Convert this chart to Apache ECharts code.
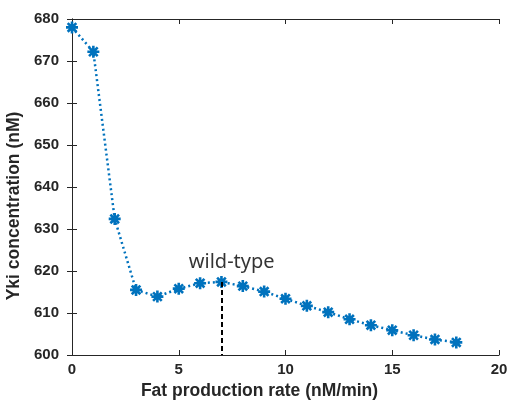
<!DOCTYPE html>
<html><head><meta charset="utf-8">
<script src="https://cdn.jsdelivr.net/npm/echarts@6/dist/echarts.min.js"></script>
<style>html,body{margin:0;padding:0;background:#fff}#c{width:508px;height:401px}</style>
</head><body><div id="c"></div>
<script>
const fatRate = [0,1,2,3,4,5,6,7,8,9,10,11,12,13,14,15,16,17,18];
const ykiConc = [678.0,672.2,632.4,615.5,613.9,615.8,617.1,617.4,616.4,615.1,613.4,611.7,610.2,608.5,607.1,605.9,604.7,603.7,603.0];
const xTicks = [0,5,10,15,20];
const yTicks = [600,610,620,630,640,650,660,670,680];
const wildType = {x: 7, y: 617.4, label: 'wild-type', labelX: 7.48, labelY: 622};

const chart = echarts.init(document.getElementById('c'));
const axisCol = '#262626';
const star = 'path://M0,-1L0,1M-1,0L1,0M-0.72,-0.72L0.72,0.72M-0.72,0.72L0.72,-0.72';
const common = {
  axisLine: {show: true, lineStyle: {color: axisCol, width: 1}},
  axisTick: {show: true, inside: true, length: 5, lineStyle: {color: axisCol}},
  splitLine: {show: false}
};
chart.setOption({
  animation: false,
  grid: {left: 72, right: 9, top: 19, bottom: 46, containLabel: false, outerBoundsMode: 'none'},
  xAxis: [
    Object.assign({type: 'value', min: xTicks[0], max: xTicks[xTicks.length-1], interval: 5,
      name: 'Fat production rate (nM/min)', nameLocation: 'middle', nameGap: 27,
      nameTextStyle: {fontFamily: 'Liberation Sans', fontWeight: 'bold', fontSize: 17.5, color: axisCol, padding: [0, 52, 0, 0]},
      axisLabel: {fontFamily: 'Liberation Sans', fontWeight: 'bold', fontSize: 15, color: axisCol, margin: 7}}, common),
    Object.assign({type: 'value', position: 'top', min: 0, max: 20, interval: 5, axisLabel: {show: false}}, common)
  ],
  yAxis: [
    Object.assign({type: 'value', min: yTicks[0], max: yTicks[yTicks.length-1], interval: 10,
      name: 'Yki concentration (nM)', nameLocation: 'middle', nameGap: 45,
      nameTextStyle: {fontFamily: 'Liberation Sans', fontWeight: 'bold', fontSize: 17.5, color: axisCol, padding: [0, 38, 0, 0]},
      axisLabel: {fontFamily: 'Liberation Sans', fontWeight: 'bold', fontSize: 15, color: axisCol, margin: 13}}, common),
    Object.assign({type: 'value', position: 'right', min: 600, max: 680, interval: 10, axisLabel: {show: false}}, common)
  ],
  series: [
    {
      type: 'line',
      data: fatRate.map((x, i) => [x, ykiConc[i]]),
      symbol: star,
      symbolSize: 12,
      lineStyle: {color: '#0072BD', width: 2.5, type: [2, 3]},
      itemStyle: {color: '#0072BD', borderColor: '#0072BD', borderWidth: 2.6},
      z: 3,
      markLine: {
        silent: true, symbol: 'none',
        label: {show: false},
        lineStyle: {color: '#000', type: [5, 3], width: 2},
        data: [[{coord: [wildType.x, wildType.y]}, {coord: [wildType.x, 600]}]]
      }
    },
    {
      type: 'scatter',
      data: [[wildType.labelX, wildType.labelY]],
      symbolSize: 0,
      silent: true,
      label: {show: true, position: 'inside', formatter: wildType.label,
        fontFamily: 'Noto Sans', fontSize: 20, color: '#000'}
    }
  ]
});
</script></body></html>
